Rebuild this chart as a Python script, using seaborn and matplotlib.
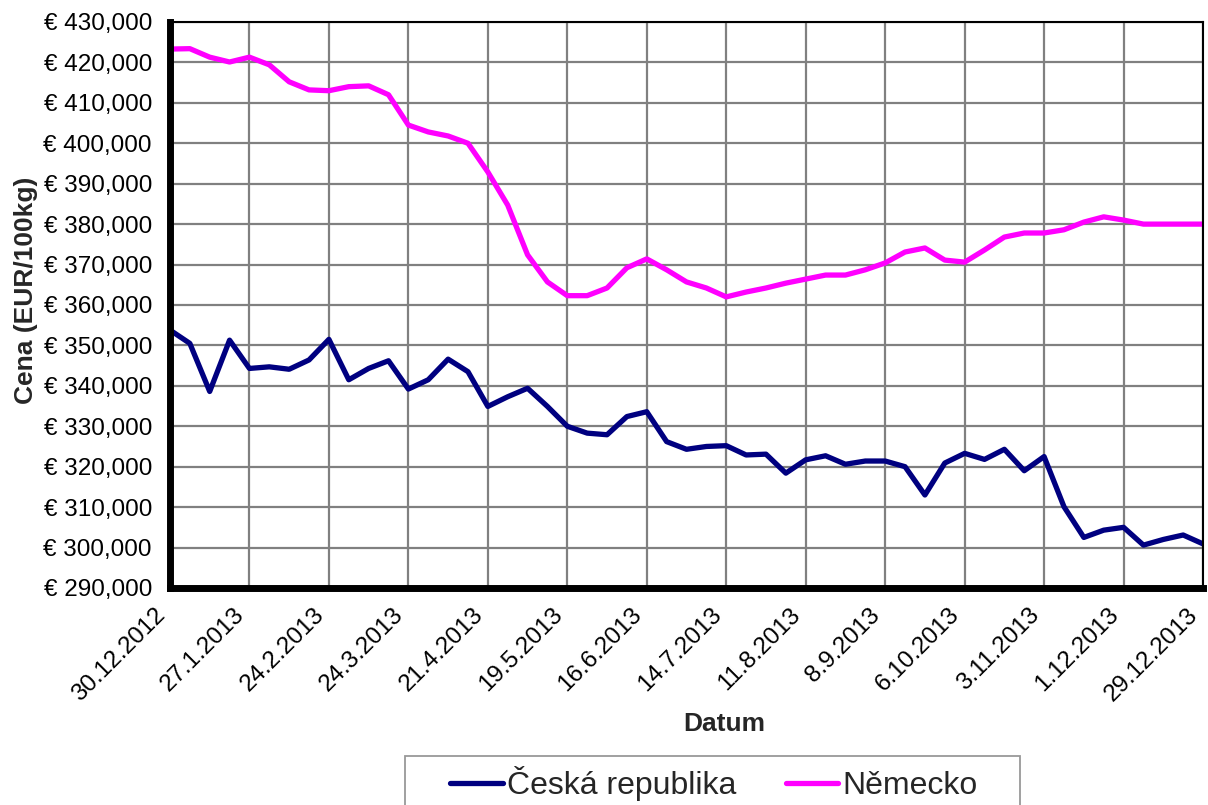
import pandas as pd
import numpy as np
import matplotlib
matplotlib.use("Agg")
import matplotlib.pyplot as plt
import matplotlib.ticker as mticker
import matplotlib.transforms as mtransforms
from matplotlib.patches import Rectangle
import seaborn as sns

# weekly prices, EUR/100kg
weeks = pd.date_range("2012-12-30", periods=53, freq="7D")

cz_prices = [353.8, 350.5, 338.6, 351.3, 344.3, 344.7, 344.1, 346.4, 351.5, 341.5,
             344.3, 346.2, 339.2, 341.5, 346.6, 343.5, 334.9, 337.3, 339.4, 334.9,
             330.0, 328.3, 327.9, 332.4, 333.6, 326.2, 324.3, 325.0, 325.2, 322.9,
             323.1, 318.4, 321.7, 322.7, 320.6, 321.4, 321.4, 320.0, 313.0, 320.9,
             323.3, 321.8, 324.3, 319.0, 322.5, 310.1, 302.5, 304.3, 305.0, 300.6,
             302.0, 303.1, 300.9]

de_prices = [423.3, 423.4, 421.3, 420.1, 421.3, 419.4, 415.2, 413.2, 413.0, 414.0,
             414.2, 412.0, 404.5, 402.8, 401.8, 400.0, 392.9, 384.7, 372.4, 365.7,
             362.3, 362.3, 364.2, 369.2, 371.4, 368.7, 365.7, 364.2, 362.0, 363.2,
             364.2, 365.4, 366.4, 367.4, 367.4, 368.7, 370.4, 373.1, 374.1, 371.1,
             370.6, 373.6, 376.8, 377.8, 377.8, 378.6, 380.5, 381.8, 381.0, 380.0,
             380.0, 380.0, 380.0]

series_names = ["Česká republika", "Německo"]
series_colors = ["#000080", "#FF00FF"]

df = pd.DataFrame({
    "week": list(range(len(weeks))) * 2,
    "cena": cz_prices + de_prices,
    "zeme": [series_names[0]] * len(weeks) + [series_names[1]] * len(weeks),
})

sns.set_style("white")
plt.rcParams["font.family"] = ["Liberation Sans", "DejaVu Sans"]

fig = plt.figure(figsize=(12.08, 8.05), dpi=100)
ax = fig.add_axes([0.1407, 0.2696, 0.8552, 0.7031])

sns.lineplot(data=df, x="week", y="cena", hue="zeme", hue_order=series_names,
             palette=series_colors, linewidth=3.8, ax=ax, legend=True)
for line in ax.get_lines():
    line.set_solid_joinstyle("round")
    line.set_solid_capstyle("round")

ax.set_xlim(0, len(weeks) - 1)
ax.set_ylim(290, 430)
ax.yaxis.set_major_locator(mticker.MultipleLocator(10))
ax.yaxis.set_major_formatter(
    mticker.FuncFormatter(lambda v, p: "€ " + f"{v:.3f}".replace(".", ",")))

tick_idx = list(range(0, len(weeks), 4))
ax.set_xticks(tick_idx)
ax.set_xticklabels([f"{weeks[i].day}.{weeks[i].month}.{weeks[i].year}" for i in tick_idx],
                   rotation=45, ha="right", va="center", rotation_mode="anchor")

ax.grid(True, color="#808080", linewidth=1.6)
ax.set_axisbelow(True)

for side in ["top", "right"]:
    ax.spines[side].set_color("black")
    ax.spines[side].set_linewidth(1.5)
for side in ["left", "bottom"]:
    ax.spines[side].set_color("black")
    ax.spines[side].set_linewidth(5)

ax.tick_params(axis="both", direction="out", length=4, width=3, color="black",
               labelsize=17.5, labelcolor="black")
ax.tick_params(axis="y", pad=9)
ax.tick_params(axis="x", pad=13)

# nudge the rotated dates a little left so the last one stays on the canvas
# (after tick_params, which resets the label transforms)
shift = mtransforms.ScaledTranslation(-6 / 72, 0, fig.dpi_scale_trans)
for lbl in ax.xaxis.get_majorticklabels():
    lbl.set_transform(lbl.get_transform() + shift)

ax.set_xlabel("Datum", fontsize=19, fontweight="bold")
ax.set_ylabel("Cena (EUR/100kg)", fontsize=19, fontweight="bold")
ax.xaxis.set_label_coords(0.537, -0.219)
ax.yaxis.set_label_coords(-0.128, 0.5265)

# legend: frame drawn separately, it runs off the bottom edge like the original
ax.get_legend().remove()
handles, labels = ax.get_legend_handles_labels()
leg = fig.legend(handles, labels, loc="center", bbox_to_anchor=(0.591, 0.027),
                 ncol=2, fontsize=23, frameon=False, borderaxespad=0,
                 handlelength=1.65, handletextpad=0.12, columnspacing=1.55)
for line in leg.get_lines():
    line.set_linewidth(3.8)
fig.patches.append(Rectangle((405 / 1208, -0.05), 615 / 1208, 0.05 + 1 - 756 / 805,
                             transform=fig.transFigure, fill=False,
                             edgecolor="#999999", linewidth=1.3))

fig.savefig("out.png", dpi=100, facecolor="white")
